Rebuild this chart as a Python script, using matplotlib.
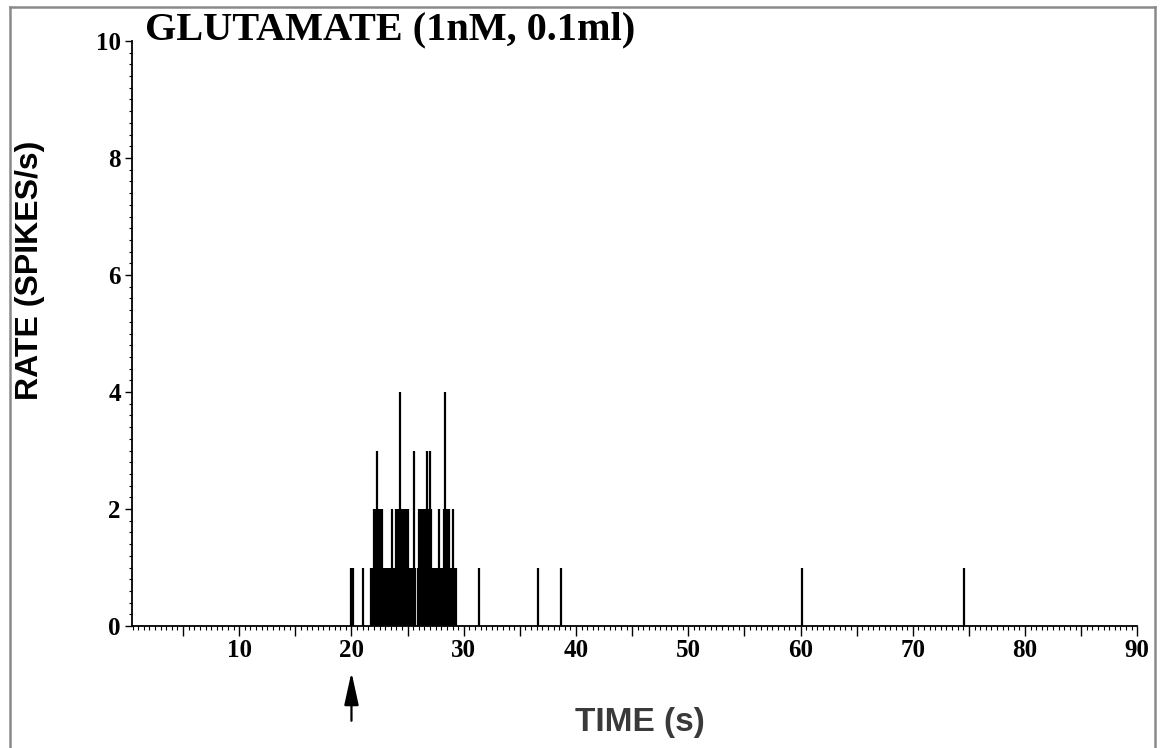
import numpy as np
import matplotlib
matplotlib.use("Agg")
import matplotlib.pyplot as plt
from matplotlib.ticker import MultipleLocator, FixedLocator
from matplotlib.lines import Line2D

# ---- data ----
title_text = "GLUTAMATE (1nM, 0.1ml)"
xlabel_text = "TIME (s)"
ylabel_text = "RATE (SPIKES/s)"
stim_time = 20

# isolated events (bin time s, rate)
iso_times = [20.0, 20.1, 21.0, 31.4, 36.6, 38.7, 60.1, 74.6]
iso_rates = [1, 1, 1, 1, 1, 1, 1, 1]

# burst: consecutive 0.1 s bins starting at 21.7 s
burst_start = 21.7
bin_width = 0.1
burst_rates = [1, 1, 1, 2, 2, 2, 3, 2, 2, 2,
               2, 1, 1, 1, 1, 1, 1, 1, 1, 2,
               1, 1, 1, 2, 2, 2, 4, 2, 2, 2,
               2, 2, 2, 2, 1, 1, 1, 1, 1, 3,
               1, 0, 1, 2, 2, 2, 2, 2, 2, 2,
               3, 2, 2, 3, 2, 1, 1, 1, 1, 1,
               1, 2, 1, 0, 1, 2, 4, 2, 2, 2,
               2, 1, 1, 2, 1, 1, 1]

x_major = [10, 20, 30, 40, 50, 60, 70, 80, 90]
y_major = [0, 2, 4, 6, 8, 10]

# ---- figure ----
W, H = 1160, 748
fig = plt.figure(figsize=(W / 100, H / 100), dpi=100)
fig.patch.set_facecolor("white")

ax = fig.add_axes([132 / W, 1 - 626 / H, (1137.3 - 132) / W, (626 - 41) / H])
ax.set_xlim(0.45, 90)
ax.set_ylim(0, 10)

burst_times = burst_start + bin_width * np.arange(len(burst_rates))
all_t = np.concatenate([np.array(iso_times), burst_times])
all_r = np.concatenate([np.array(iso_rates), np.array(burst_rates)])
mask = all_r > 0
ax.vlines(all_t[mask], 0, all_r[mask], color="black", lw=1.6)

for s in ["top", "right"]:
    ax.spines[s].set_visible(False)
for s in ["left", "bottom"]:
    ax.spines[s].set_linewidth(1.3)
    ax.spines[s].set_color("black")

# x ticks
ax.xaxis.set_major_locator(MultipleLocator(5))
ax.xaxis.set_minor_locator(MultipleLocator(0.5))
ax.set_xticklabels([])
ax.tick_params(axis="x", which="major", direction="out", length=7, width=1.0, pad=0)
ax.tick_params(axis="x", which="minor", direction="out", length=3, width=0.8)
for v in x_major:
    ax.text(v, -0.42, str(v), ha="center", va="center",
            fontfamily="Liberation Serif", fontweight="bold", fontsize=18,
            transform=ax.transData, clip_on=False)

# y ticks
ax.yaxis.set_major_locator(FixedLocator(y_major))
ax.yaxis.set_minor_locator(MultipleLocator(0.2))
ax.set_yticklabels([str(v) for v in y_major])
ax.tick_params(axis="y", which="major", direction="out", length=5, width=1.0, pad=3)
ax.tick_params(axis="y", which="minor", direction="out", length=2.5, width=0.8)
for lab in ax.get_yticklabels():
    lab.set_fontfamily("Liberation Serif")
    lab.set_fontweight("bold")
    lab.set_fontsize(18)

# labels
fig.text(30 / W, 1 - 270 / H, ylabel_text, rotation=90, ha="center", va="center",
         fontfamily="Liberation Sans", fontweight="bold", fontsize=23, color="black")
fig.text(640 / W, 1 - 722 / H, xlabel_text, ha="center", va="center",
         fontfamily="Liberation Sans", fontweight="bold", fontsize=24, color="#3a3a3a")
fig.text(145 / W, 1 - 30 / H, title_text, ha="left", va="center",
         fontfamily="Liberation Serif", fontweight="bold", fontsize=29, color="black")

# stimulus arrow
ax.annotate("", xy=(stim_time, -0.79), xytext=(stim_time, -1.62),
            xycoords="data", textcoords="data", annotation_clip=False,
            arrowprops=dict(arrowstyle="-|>,head_length=1.0,head_width=0.22",
                            mutation_scale=20, lw=1.6, color="black",
                            shrinkA=0, shrinkB=0))

# gray frame
frame_col = "#8a8a8a"
fig.add_artist(Line2D([10 / W, 10 / W], [0, 1 - 7 / H], transform=fig.transFigure,
                      color=frame_col, lw=1.8))
fig.add_artist(Line2D([10 / W, 1155 / W], [1 - 7 / H, 1 - 7 / H], transform=fig.transFigure,
                      color=frame_col, lw=1.8))
fig.add_artist(Line2D([1155 / W, 1155 / W], [0, 1 - 7 / H], transform=fig.transFigure,
                      color=frame_col, lw=1.8))

fig.savefig("out.png", dpi=100, facecolor="white")
